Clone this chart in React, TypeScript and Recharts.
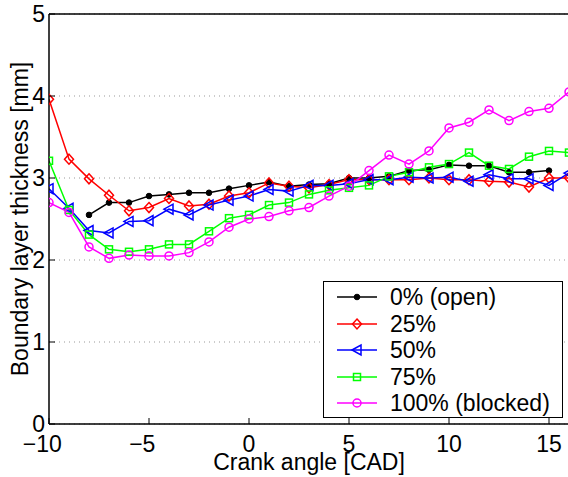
import React from 'react';
import { LineChart, Line, XAxis, YAxis, CartesianGrid, ReferenceLine, Legend } from 'recharts';

// crank angle in CAD
const crankAngle = [-10, -9, -8, -7, -6, -5, -4, -3, -2, -1, 0, 1, 2, 3, 4, 5, 6, 7, 8, 9, 10, 11, 12, 13, 14, 15, 16];

// boundary layer thickness [mm] per throttle blocking
const open0 = [null, null, 2.55, 2.70, 2.70, 2.78, 2.80, 2.82, 2.82, 2.87, 2.91, 2.95, 2.90, 2.92, 2.93, 3.00, 3.00, 3.02, 3.09, 3.10, 3.16, 3.15, 3.15, 3.07, 3.07, 3.09, null];
const blocked25 = [3.96, 3.23, 2.99, 2.79, 2.60, 2.64, 2.75, 2.66, 2.68, 2.78, 2.82, 2.94, 2.90, 2.88, 2.92, 2.98, 2.98, 2.98, 2.98, 3.00, 2.98, 2.98, 2.96, 2.95, 2.89, 3.00, 3.00];
const blocked50 = [2.87, 2.63, 2.36, 2.33, 2.47, 2.48, 2.62, 2.55, 2.67, 2.73, 2.78, 2.86, 2.84, 2.91, 2.91, 2.93, 2.98, 2.98, 3.01, 3.00, 3.01, 2.96, 3.04, 2.99, 2.99, 2.91, 3.06];
const blocked75 = [3.21, 2.61, 2.31, 2.13, 2.10, 2.13, 2.19, 2.19, 2.35, 2.51, 2.55, 2.67, 2.70, 2.80, 2.85, 2.88, 2.91, 3.02, 3.07, 3.13, 3.17, 3.31, 3.15, 3.11, 3.26, 3.33, 3.31];
const blocked100 = [2.70, 2.58, 2.16, 2.02, 2.06, 2.05, 2.05, 2.09, 2.22, 2.40, 2.50, 2.53, 2.60, 2.64, 2.78, 2.90, 3.09, 3.28, 3.17, 3.33, 3.61, 3.68, 3.83, 3.70, 3.81, 3.85, 4.05];

const xTicks = [-10, -5, 0, 5, 10, 15];
const yTicks = [0, 1, 2, 3, 4, 5];

const data = crankAngle.map((a, i) => ({
  angle: a,
  p0: open0[i],
  p25: blocked25[i],
  p50: blocked50[i],
  p75: blocked75[i],
  p100: blocked100[i],
}));

const FONT = '"Liberation Sans", Arial, Helvetica, sans-serif';
const FS = 23;

type Shape = 'dot' | 'diamond' | 'triangle' | 'square' | 'circle';

const series: { key: string; name: string; color: string; shape: Shape }[] = [
  { key: 'p0', name: '0% (open)', color: '#000000', shape: 'dot' },
  { key: 'p25', name: '25%', color: '#ff0000', shape: 'diamond' },
  { key: 'p50', name: '50%', color: '#0000ff', shape: 'triangle' },
  { key: 'p75', name: '75%', color: '#00ff00', shape: 'square' },
  { key: 'p100', name: '100% (blocked)', color: '#ff00ff', shape: 'circle' },
];

const marker = (shape: Shape, cx: number, cy: number, color: string) => {
  const sw = 1.5;
  switch (shape) {
    case 'dot':
      return <circle cx={cx} cy={cy} r={2.8} fill={color} stroke={color} />;
    case 'diamond':
      return <polygon points={`${cx},${cy - 5} ${cx + 4.5},${cy} ${cx},${cy + 5} ${cx - 4.5},${cy}`} fill="none" stroke={color} strokeWidth={sw} />;
    case 'triangle':
      return <polygon points={`${cx - 5},${cy} ${cx + 4},${cy - 5} ${cx + 4},${cy + 5}`} fill="none" stroke={color} strokeWidth={sw} />;
    case 'square':
      return <rect x={cx - 3.5} y={cy - 3.5} width={7} height={7} fill="none" stroke={color} strokeWidth={sw} />;
    default:
      return <circle cx={cx} cy={cy} r={4} fill="none" stroke={color} strokeWidth={sw} />;
  }
};

const makeDot = (shape: Shape, color: string) => (props: any) => {
  const { cx, cy, index, value } = props;
  if (cx == null || cy == null || value == null || Number.isNaN(cy)) return <g key={index} />;
  return <g key={index}>{marker(shape, cx, cy, color)}</g>;
};

// digits are centred on the tick, a minus sign hangs off to the left
const XTick = ({ x, y, payload }: any) => {
  const v = payload.value as number;
  const digits = `${Math.abs(v)}`;
  const endX = x + (digits.length * 0.556 * FS) / 2;
  return (
    <g>
      <line x1={x} x2={x} y1={y} y2={y - 6} stroke="#000" />
      <text x={endX} y={y + 28} textAnchor="end" fontSize={FS} fontFamily={FONT} fill="#000">
        {v < 0 ? `\u2212${digits}` : digits}
      </text>
    </g>
  );
};

const YTick = ({ x, y, payload }: any) => (
  <g>
    <line x1={x} x2={x + 6} y1={y} y2={y} stroke="#000" />
    <text x={x - 4} y={y + 8} textAnchor="end" fontSize={FS} fontFamily={FONT} fill="#000">
      {payload.value}
    </text>
  </g>
);

const XLabel = ({ viewBox }: any) => (
  <text x={viewBox.x + viewBox.width / 2} y={viewBox.y + 46} textAnchor="middle" fontSize={FS} fontFamily={FONT} fill="#000">
    Crank angle [CAD]
  </text>
);

const YLabel = ({ viewBox }: any) => {
  const cy = viewBox.y + viewBox.height / 2;
  const cx = 28;
  return (
    <text x={cx} y={cy} transform={`rotate(-90 ${cx} ${cy})`} textAnchor="middle" fontSize={FS} fontFamily={FONT} fill="#000">
      Boundary layer thickness [mm]
    </text>
  );
};

const LegendBox = () => (
  <div
    style={{
      border: '1.5px solid #000',
      background: '#fff',
      width: 240,
      height: 137,
      boxSizing: 'border-box',
      paddingTop: 2,
      fontFamily: FONT,
      fontSize: FS,
      color: '#000',
    }}
  >
    {series.map((s) => (
      <div key={s.key} style={{ display: 'flex', alignItems: 'center', height: 26.5, lineHeight: '26px' }}>
        <svg width={66} height={20} style={{ flex: 'none' }}>
          <line x1={13} x2={53} y1={10} y2={10} stroke={s.color} strokeWidth={1.5} />
          {marker(s.shape, 33, 10, s.color)}
        </svg>
        <span>{s.name}</span>
      </div>
    ))}
  </div>
);

export default function App() {
  return (
    <div style={{ position: 'absolute', left: 0, top: 0, width: 568, height: 477, overflow: 'hidden', background: '#fff' }}>
      <LineChart width={580} height={477} data={data} margin={{ top: 14, right: 11, bottom: 0, left: 0 }}>
        <CartesianGrid vertical={false} stroke="#999" strokeDasharray="1 4" />
        <XAxis
          dataKey="angle"
          type="number"
          domain={[-10, 16]}
          ticks={xTicks}
          allowDataOverflow
          height={53}
          tickSize={0}
          tickMargin={0}
          tickLine={false}
          tick={<XTick />}
          axisLine={{ stroke: '#000', strokeWidth: 1.5 }}
          label={<XLabel />}
        />
        <YAxis
          type="number"
          domain={[0, 5]}
          ticks={yTicks}
          allowDataOverflow
          width={49}
          tickSize={0}
          tickMargin={0}
          tickLine={false}
          tick={<YTick />}
          axisLine={{ stroke: '#000', strokeWidth: 1.5 }}
          label={<YLabel />}
        />
        <ReferenceLine y={5} stroke="#000" strokeWidth={1.5} />
        <ReferenceLine x={16} stroke="#000" strokeWidth={1.5} />
        {series.map((s) => (
          <Line
            key={s.key}
            dataKey={s.key}
            name={s.name}
            type="linear"
            stroke={s.color}
            strokeWidth={1.5}
            dot={makeDot(s.shape, s.color)}
            activeDot={false}
            isAnimationActive={false}
          />
        ))}
        <Legend
          layout="vertical"
          align="center"
          verticalAlign="middle"
          content={<LegendBox />}
          wrapperStyle={{ position: 'absolute', left: 323, top: 281, width: 240, height: 137 }}
        />
      </LineChart>
    </div>
  );
}
